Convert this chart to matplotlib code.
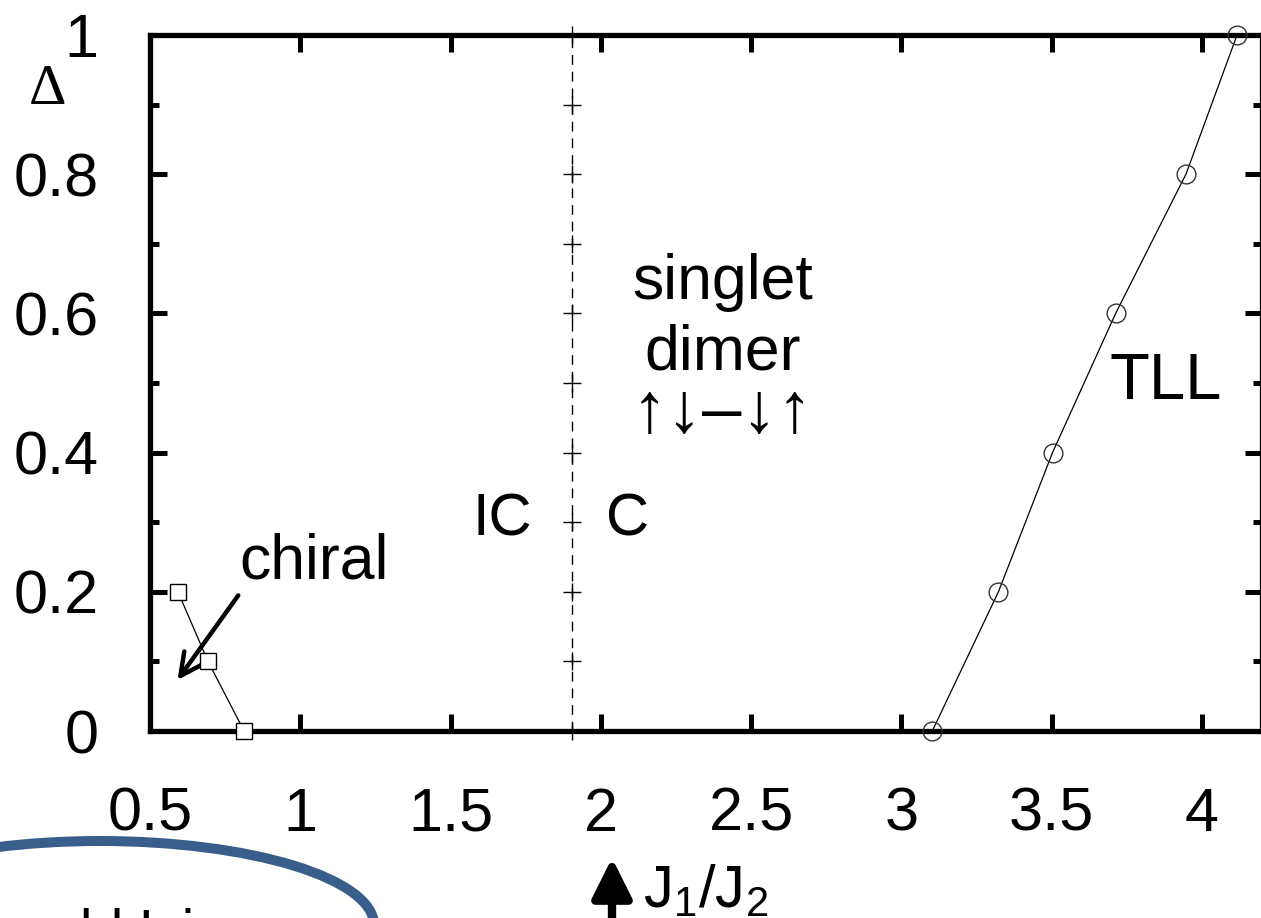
import numpy as np
import matplotlib
matplotlib.use('Agg')
import matplotlib.pyplot as plt
from matplotlib.patches import Ellipse

plt.rcParams['font.family'] = ['Liberation Sans', 'DejaVu Sans']
plt.rcParams['mathtext.fontset'] = 'custom'
plt.rcParams['mathtext.rm'] = 'Liberation Sans'
plt.rcParams['mathtext.it'] = 'Liberation Sans'

# chiral boundary (squares)
chiral_x = [0.593, 0.693, 0.813]
chiral_y = [0.2, 0.1, 0.0]

# TLL boundary (circles)
tll_x = [3.103, 3.323, 3.503, 3.713, 3.947, 4.117]
tll_y = [0.0, 0.2, 0.4, 0.6, 0.8, 1.0]

# IC / C boundary (dashed line with plus marks)
ic_x = 1.905
ic_y = [0.0, 0.1, 0.2, 0.3, 0.4, 0.5, 0.6, 0.7, 0.8, 0.9, 1.0]

xticks = [0.5, 1.0, 1.5, 2.0, 2.5, 3.0, 3.5, 4.0]
xticklabels = ['0.5', '1', '1.5', '2', '2.5', '3', '3.5', '4']
yticks = [0.0, 0.2, 0.4, 0.6, 0.8, 1.0]
yticklabels = ['0', '0.2', '0.4', '0.6', '0.8', '1']
yminor = [0.1, 0.3, 0.5, 0.7, 0.9]

W, H = 1261, 918
fig = plt.figure(figsize=(W / 100, H / 100), dpi=100)
ax = fig.add_axes([150 / W, (H - 731) / H, (1262 - 150) / W, (731 - 35) / H])

ax.plot(chiral_x, chiral_y, '-', color='k', lw=0.9, marker='s', ms=12,
        mfc='white', mec='k', mew=1.0, clip_on=False, zorder=5)
ax.plot(tll_x, tll_y, '-', color='k', lw=0.9, marker='o', ms=13.5,
        mfc='none', mec='#333333', mew=1.0, clip_on=False, zorder=5)
ax.axvline(ic_x, color='k', lw=1.0, ls=(0, (7, 5)))
ax.plot([ic_x] * len(ic_y), ic_y, ls='none', marker='+', ms=13, mew=1.0,
        color='k', clip_on=False, zorder=5)

ax.set_xlim(0.5, 4.2)
ax.set_ylim(0, 1)
ax.set_xticks(xticks)
ax.set_xticklabels(xticklabels)
ax.set_yticks(yticks)
ax.set_yticklabels(yticklabels)
ax.set_yticks(yminor, minor=True)

for s in ax.spines.values():
    s.set_linewidth(3.8)
ax.tick_params(which='both', direction='in', top=True, right=True, width=3.6)
ax.tick_params(which='major', length=12, labelsize=44)
ax.tick_params(which='minor', length=6.5)
ax.tick_params(axis='x', pad=40)
ax.tick_params(axis='y', pad=37)

ax.set_xlabel('J$_1$/J$_2$', fontsize=43, labelpad=14)

ax.text(0.158, 0.921, 'Δ', fontsize=42, ha='center', va='center',
        family=['Liberation Serif', 'DejaVu Serif'], clip_on=False)

ax.text(1.045, 0.2195, 'chiral', fontsize=45, ha='center', va='baseline')
ax.annotate('', xy=(0.586, 0.070), xytext=(0.799, 0.198),
            arrowprops=dict(arrowstyle='->', lw=3.2, color='k', mutation_scale=40))

ax.text(1.673, 0.303, 'IC', fontsize=43, ha='center', va='center')
ax.text(2.088, 0.303, 'C', fontsize=43, ha='center', va='center')

ax.text(2.404, 0.620, 'singlet', fontsize=45, ha='center', va='baseline')
ax.text(2.404, 0.520, 'dimer', fontsize=45, ha='center', va='baseline')
ax.text(2.404, 0.456, '↑↓–↓↑', fontsize=51, ha='center', va='center')

ax.text(3.879, 0.501, 'TLL', fontsize=47, ha='center', va='center')

# overlay from the slide: up arrow and blue ellipse
ax.annotate('', xy=(612, H - 858), xytext=(612, -20), xycoords='figure pixels',
            textcoords='figure pixels', annotation_clip=False,
            arrowprops=dict(arrowstyle='-|>', lw=6, color='k', mutation_scale=60,
                            shrinkA=0, shrinkB=0))
fig.add_artist(Ellipse((100 / W, (H - 925) / H), 548 / W, 168 / H,
                       transform=fig.transFigure, fill=False,
                       ec='#3a5e8c', lw=7.2))
fig.text(80 / W, (H - 948) / H, 'ld Ising', fontsize=40, ha='left', va='baseline')

fig.savefig('out.png', dpi=100)
